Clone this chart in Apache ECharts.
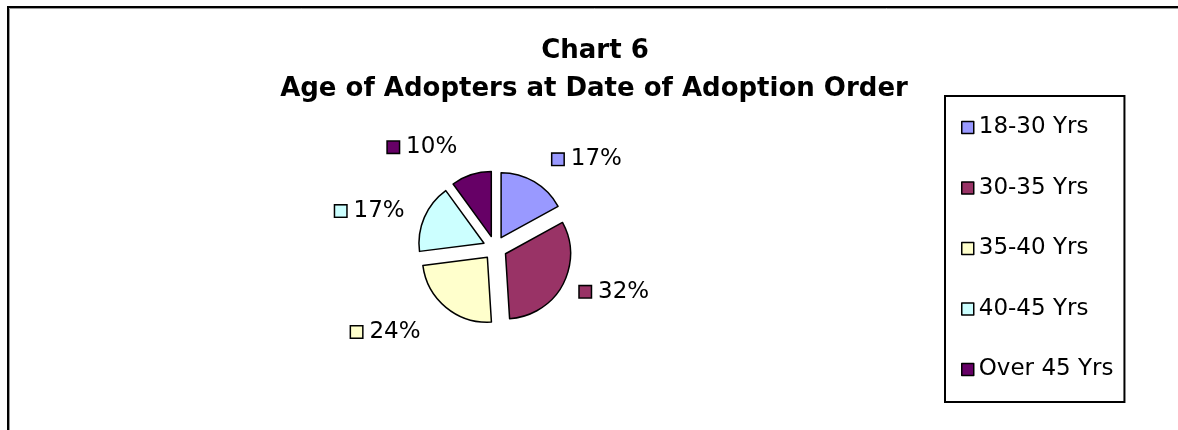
<!DOCTYPE html>
<html>
<head>
<meta charset="utf-8">
<script src="https://cdn.jsdelivr.net/npm/echarts@6/dist/echarts.min.js"></script>
<style>
html,body{margin:0;padding:0;background:#fff;}
#c{width:1178px;height:430px;}
</style>
</head>
<body>
<div id="c"></div>
<script>
const titleLine1 = 'Chart 6';
const titleLine2 = 'Age of Adopters at Date of Adoption Order';
const categories = ['18-30 Yrs', '30-35 Yrs', '35-40 Yrs', '40-45 Yrs', 'Over 45 Yrs'];
const percentValues = [17, 32, 24, 17, 10];
const sliceColors = ['#9999FF', '#993366', '#FFFFCC', '#CCFFFF', '#660066'];

const FONT = 'DejaVu Sans';
// label reach beyond the slice edge, per slice (style only)
const labelReach = [26, 14, 32, 16, 29];

const pieData = categories.map((name, i) => ({
  name: name,
  value: percentValues[i],
  selected: true,
  itemStyle: { color: sliceColors[i] },
  labelLine: { show: false, length: labelReach[i], length2: 0 },
  label: {
    rich: {
      sq: { width: 11, height: 11, backgroundColor: sliceColors[i], borderColor: '#000', borderWidth: 1.5 }
    }
  }
}));

const chart = echarts.init(document.getElementById('c'), null, { renderer: 'canvas' });
chart.setOption({
  backgroundColor: '#fff',
  animation: false,
  title: [
    {
      text: titleLine1,
      left: 590, top: 33, textAlign: 'center',
      textStyle: { fontFamily: FONT, fontWeight: 'bold', fontSize: 26, color: '#000' }
    },
    {
      text: titleLine2,
      left: 589, top: 71, textAlign: 'center',
      textStyle: { fontFamily: FONT, fontWeight: 'bold', fontSize: 26, color: '#000' }
    }
  ],
  graphic: [
    { type: 'rect', shape: { x: 8, y: 7, width: 1200, height: 460 }, style: { fill: 'none', stroke: '#000', lineWidth: 2 }, silent: true },
    { type: 'rect', shape: { x: 9.5, y: 8.5, width: 1200, height: 460 }, style: { fill: 'none', stroke: '#999', lineWidth: 1 }, silent: true }
  ],
  legend: {
    orient: 'vertical',
    left: 945, top: 96,
    padding: [20, 11, 21, 16],
    borderColor: '#000', borderWidth: 2,
    itemWidth: 12, itemHeight: 12, itemGap: 37.5,
    icon: 'rect',
    selectedMode: false,
    itemStyle: { borderColor: '#000', borderWidth: 1.5 },
    textStyle: { fontFamily: FONT, fontSize: 23, color: '#000' },
    data: categories
  },
  series: [{
    type: 'pie',
    center: [495, 248],
    radius: 65,
    startAngle: 90,
    clockwise: true,
    selectedMode: 'multiple',
    selectedOffset: 12,
    avoidLabelOverlap: false,
    emphasis: { disabled: true },
    select: { itemStyle: { borderColor: '#000', borderWidth: 1.5 } },
    itemStyle: { borderColor: '#000', borderWidth: 1.5 },
    label: {
      show: true,
      position: 'outside',
      fontFamily: FONT, fontSize: 23, color: '#000',
      formatter: (p) => '{sq|} ' + p.value + '%'
    },
    labelLine: { show: false, length: 18, length2: 0 },
    data: pieData
  }]
});
</script>
</body>
</html>
